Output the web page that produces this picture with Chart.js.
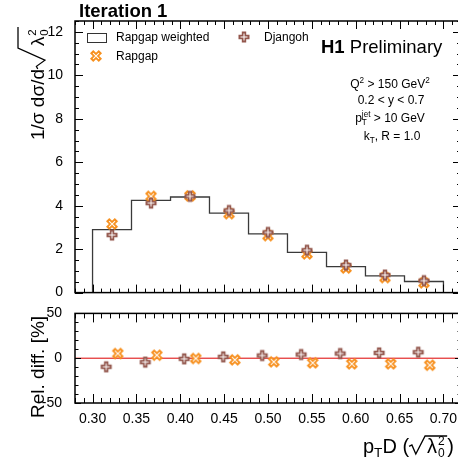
<!DOCTYPE html>
<html>
<head>
<meta charset="utf-8">
<script src="https://cdn.jsdelivr.net/npm/chart.js@4.4.0/dist/chart.umd.min.js"></script>
<style>
  html, body { margin: 0; padding: 0; background: #fff; overflow: hidden; width: 458px; height: 457px; }
  #wrap { position: relative; width: 470px; height: 457px; }
  #mainPlot { position: absolute; left: 0; top: 0; }
  #ratioPlot { position: absolute; left: 0; top: 300px; }
</style>
</head>
<body>
<div id="wrap">
  <canvas id="mainPlot" width="470" height="305"></canvas>
  <canvas id="ratioPlot" width="470" height="157"></canvas>
</div>
<script>
const FONT = '"Liberation Sans", Arial, Helvetica, sans-serif';

// pTD binning (9 bins between 0.3 and 0.7)
const binEdges = [0.3000, 0.3444, 0.3889, 0.4333, 0.4778, 0.5222, 0.5667, 0.6111, 0.6556, 0.7000];
const binCentres = [0.3222, 0.3667, 0.4111, 0.4556, 0.5000, 0.5444, 0.5889, 0.6333, 0.6778];

// normalised cross sections
const rapgapWeighted = [2.90, 4.24, 4.40, 3.66, 2.70, 1.85, 1.20, 0.77, 0.51];
const rapgap = [3.16, 4.43, 4.45, 3.63, 2.62, 1.78, 1.13, 0.69, 0.45];
const djangoh = [2.65, 4.12, 4.43, 3.78, 2.77, 1.95, 1.27, 0.81, 0.55];

// relative difference w.r.t. Rapgap weighted [%]
const djangohDiff = [-9.6, -4.4, -0.7, 1.5, 3.0, 4.1, 5.2, 5.9, 6.7];
const rapgapDiff = [5.2, 3.3, -0.3, -1.8, -4.1, -5.2, -6.3, -6.3, -7.8];
const diffShift = 0.0066; // the two ratio series are drawn side by side

const xTicks = [0.30, 0.35, 0.40, 0.45, 0.50, 0.55, 0.60, 0.65, 0.70];
const mainYTicks = [0, 2, 4, 6, 8, 10, 12];
const ratioYTicks = [-50, 0, 50];

const ORANGE = '#f7901e';
const BROWN = '#93574d';

// ROOT-like markers: thick cross with a thin white cross inside
function makeMarker(color, angle, arm, thick) {
  const s = 18, c = document.createElement('canvas');
  c.width = c.height = s;
  const g = c.getContext('2d');
  g.translate(s / 2, s / 2);
  g.rotate(angle);
  g.strokeStyle = color;
  g.lineWidth = thick;
  g.beginPath();
  g.moveTo(-arm, 0); g.lineTo(arm, 0);
  g.moveTo(0, -arm); g.lineTo(0, arm);
  g.stroke();
  g.strokeStyle = '#fff';
  g.lineWidth = 1;
  g.beginPath();
  g.moveTo(-arm + 2, 0); g.lineTo(arm - 2, 0);
  g.moveTo(0, -arm + 2); g.lineTo(0, arm - 2);
  g.stroke();
  return c;
}
const rapgapMarker = makeMarker(ORANGE, Math.PI / 4, 6.2, 4.6);
const djangohMarker = makeMarker(BROWN, 0, 5.5, 4.4);

// sqrt(lambda_0^2) drawn with a radical sign; returns its width
function rootLambda(ctx, x, y, fs, shape, draw) {
  const [rise, rad] = shape;
  ctx.font = fs + 'px ' + FONT;
  const lw = ctx.measureText('λ').width;
  const ss = 0.6 * fs;
  ctx.font = ss + 'px ' + FONT;
  const iw = ctx.measureText('0').width;
  const w = rad + 0.1 * fs + lw + 0.05 * fs + iw + 0.12 * fs;
  if (draw) {
    ctx.save();
    ctx.lineWidth = Math.max(1, fs / 15);
    ctx.strokeStyle = ctx.fillStyle;
    ctx.beginPath();
    ctx.moveTo(x, y - 0.33 * fs);
    ctx.lineTo(x + 0.14 * fs, y - 0.4 * fs);
    ctx.lineTo(x + 0.42 * rad, y + 0.05 * fs);
    ctx.lineTo(x + rad, y - rise);
    ctx.lineTo(x + w, y - rise);
    ctx.stroke();
    ctx.restore();
    ctx.font = fs + 'px ' + FONT;
    ctx.fillText('λ', x + rad + 0.1 * fs, y);
    ctx.font = ss + 'px ' + FONT;
    const sx = x + rad + 0.1 * fs + lw + 0.05 * fs;
    ctx.fillText('2', sx, y - 0.42 * fs);
    ctx.fillText('0', sx, y + 0.2 * fs);
  }
  return w;
}

// pieces: [text, mode, extra]; mode '' normal, 'b' bold, '^' sup, '_' sub, 'r' root lambda
function runText(ctx, pieces, x, y, fs, draw) {
  let cx = x;
  for (const p of pieces) {
    const [t, m, extra] = p;
    if (m === 'r') { cx += rootLambda(ctx, cx, y, fs, extra, draw); continue; }
    let size = fs, dy = 0, weight = '';
    if (m === '^') { size = fs * 0.68; dy = -fs * 0.42; }
    if (m === '_') { size = fs * 0.68; dy = fs * 0.22; }
    if (m === 'b') weight = 'bold ';
    ctx.font = weight + size + 'px ' + FONT;
    if (draw) ctx.fillText(t, cx, y + dy);
    if (!extra) cx += ctx.measureText(t).width; // extra = stacked under the next piece
  }
  return cx - x;
}

function centredText(ctx, pieces, cx, y, fs) {
  const w = runText(ctx, pieces, 0, 0, fs, false);
  runText(ctx, pieces, cx - w / 2, y, fs, true);
}

// frame with inward ticks on all four sides
function frameTicks(spec) {
  return {
    id: 'frameTicks',
    afterDatasetsDraw(chart) {
      const { ctx, chartArea: a, scales: { x, y } } = chart;
      ctx.save();
      ctx.strokeStyle = '#000';
      ctx.lineWidth = 1;
      ctx.beginPath();
      for (let k = Math.ceil(x.min / spec.xStep - 1e-6); k * spec.xStep <= x.max + 1e-9; k++) {
        const v = k * spec.xStep;
        const px = Math.round(x.getPixelForValue(v)) + 0.5;
        const major = Math.abs(v / spec.xMajor - Math.round(v / spec.xMajor)) < 1e-6;
        const l = major ? spec.xLen[0] : spec.xLen[1];
        ctx.moveTo(px, a.bottom); ctx.lineTo(px, a.bottom - l);
        ctx.moveTo(px, a.top); ctx.lineTo(px, a.top + l);
      }
      for (let k = Math.ceil(y.min / spec.yStep - 1e-6); k * spec.yStep <= y.max + 1e-9; k++) {
        const v = k * spec.yStep;
        const py = Math.round(y.getPixelForValue(v)) + 0.5;
        const major = Math.abs(v / spec.yMajor - Math.round(v / spec.yMajor)) < 1e-6;
        const l = major ? spec.yLen[0] : spec.yLen[1];
        ctx.moveTo(a.left, py); ctx.lineTo(a.left + l, py);
        ctx.moveTo(a.right, py); ctx.lineTo(a.right - l, py);
      }
      ctx.stroke();
      ctx.lineWidth = 1.5;
      ctx.strokeRect(a.left, a.top, a.right - a.left, a.bottom - a.top);
      ctx.restore();
    }
  };
}

function fixedTicks(values) {
  return scale => { scale.ticks = values.map(v => ({ value: v })); };
}

// histogram outline from the bin edges
const histPts = [{ x: binEdges[0], y: 0 }];
rapgapWeighted.forEach((v, i) => {
  histPts.push({ x: binEdges[i], y: v });
  histPts.push({ x: binEdges[i + 1], y: v });
});
histPts.push({ x: binEdges[binEdges.length - 1], y: 0 });

const mainLabels = {
  id: 'mainLabels',
  afterDraw(chart) {
    const ctx = chart.ctx;
    ctx.save();
    ctx.fillStyle = '#000';
    ctx.textAlign = 'left';
    ctx.textBaseline = 'alphabetic';

    ctx.font = 'bold 18.5px ' + FONT;
    ctx.fillText('Iteration 1', 79, 17);

    runText(ctx, [['H1', 'b'], [' Preliminary', '']], 321, 53, 18.5, true);

    centredText(ctx, [['Q', ''], ['2', '^'], [' > 150 GeV', ''], ['2', '^']], 390, 88, 12);
    centredText(ctx, [['0.2 < y < 0.7', '']], 391, 104, 12);
    centredText(ctx, [['p', ''], ['T', '_', true], ['jet', '^'], [' > 10 GeV', '']], 390, 122, 12);
    centredText(ctx, [['k', ''], ['T', '_'], [', R = 1.0', '']], 392, 140, 12);

    // legend
    ctx.strokeStyle = '#333';
    ctx.lineWidth = 1;
    ctx.strokeRect(87.5, 33.5, 19, 9);
    ctx.drawImage(rapgapMarker, 96 - 9, 56 - 9);
    ctx.drawImage(djangohMarker, 244 - 9, 37 - 9);
    ctx.font = '12px ' + FONT;
    ctx.textBaseline = 'middle';
    ctx.fillText('Rapgap weighted', 116, 38);
    ctx.fillText('Rapgap', 116, 57);
    ctx.fillText('Djangoh', 264, 38);

    // y title
    ctx.textBaseline = 'alphabetic';
    ctx.translate(44, 140);
    ctx.rotate(-Math.PI / 2);
    runText(ctx, [['1/σ dσ/d', ''], ['', 'r', [26, 21]]], 0, 0, 19, true);
    ctx.restore();
  }
};

const ratioLabels = {
  id: 'ratioLabels',
  afterDraw(chart) {
    const ctx = chart.ctx;
    ctx.save();
    ctx.fillStyle = '#000';
    ctx.textAlign = 'left';
    ctx.textBaseline = 'alphabetic';
    runText(ctx, [['p', ''], ['T', '_'], ['D (', ''], ['', 'r', [17, 16]], [')', '']], 363, 153, 20, true);
    ctx.translate(44, 118);
    ctx.rotate(-Math.PI / 2);
    ctx.font = '19px ' + FONT;
    ctx.fillText('Rel. diff. [%]', 0, 0);
    ctx.restore();
  }
};

const tickFont = { family: FONT, size: 14 };

new Chart(document.getElementById('mainPlot'), {
  type: 'scatter',
  data: {
    datasets: [
      {
        label: 'Djangoh', order: 0,
        data: binCentres.map((x, i) => ({ x, y: djangoh[i] })),
        pointStyle: djangohMarker, pointRadius: 5
      },
      {
        label: 'Rapgap', order: 1,
        data: binCentres.map((x, i) => ({ x, y: rapgap[i] })),
        pointStyle: rapgapMarker, pointRadius: 5
      },
      {
        label: 'Rapgap weighted', order: 2,
        data: histPts, showLine: true, pointRadius: 0,
        borderColor: '#3a3a3a', borderWidth: 1.3, fill: false
      }
    ]
  },
  options: {
    responsive: false,
    animation: false,
    layout: { padding: { left: 35, right: 9, top: 21, bottom: 12 } },
    plugins: { legend: { display: false }, tooltip: { enabled: false } },
    scales: {
      x: { type: 'linear', min: 0.28, max: 0.72, display: false },
      y: {
        type: 'linear', min: 0, max: 12.5,
        afterBuildTicks: fixedTicks(mainYTicks),
        afterFit: s => { s.width = 40; },
        grid: { display: false }, border: { display: false },
        ticks: { font: tickFont, color: '#000', padding: 4 }
      }
    }
  },
  plugins: [frameTicks({ xStep: 0.01, xMajor: 0.05, xLen: [8, 4], yStep: 0.5, yMajor: 2, yLen: [8, 4] }), mainLabels]
});

new Chart(document.getElementById('ratioPlot'), {
  type: 'scatter',
  data: {
    datasets: [
      {
        label: 'Djangoh', order: 0,
        data: binCentres.map((x, i) => ({ x: x - diffShift, y: djangohDiff[i] })),
        pointStyle: djangohMarker, pointRadius: 5
      },
      {
        label: 'Rapgap', order: 1,
        data: binCentres.map((x, i) => ({ x: x + diffShift, y: rapgapDiff[i] })),
        pointStyle: rapgapMarker, pointRadius: 5
      },
      {
        label: 'zero', order: 2,
        data: [{ x: 0.28, y: 0 }, { x: 0.72, y: 0 }],
        showLine: true, pointRadius: 0, borderColor: '#dd0000', borderWidth: 1
      }
    ]
  },
  options: {
    responsive: false,
    animation: false,
    layout: { padding: { left: 35, right: 9, top: 12, bottom: 34 } },
    plugins: { legend: { display: false }, tooltip: { enabled: false } },
    scales: {
      x: {
        type: 'linear', min: 0.28, max: 0.72,
        afterBuildTicks: fixedTicks(xTicks),
        afterFit: s => { s.height = 20; },
        grid: { display: false }, border: { display: false },
        ticks: { font: tickFont, color: '#000', padding: 0, maxRotation: 0, callback: v => v.toFixed(2) }
      },
      y: {
        type: 'linear', min: -50, max: 50,
        afterBuildTicks: fixedTicks(ratioYTicks),
        afterFit: s => { s.width = 40; },
        grid: { display: false }, border: { display: false },
        ticks: { font: tickFont, color: '#000', padding: 5 }
      }
    }
  },
  plugins: [frameTicks({ xStep: 0.01, xMajor: 0.05, xLen: [9, 5], yStep: 10, yMajor: 50, yLen: [6, 3.5] }), ratioLabels]
});
</script>
</body>
</html>
